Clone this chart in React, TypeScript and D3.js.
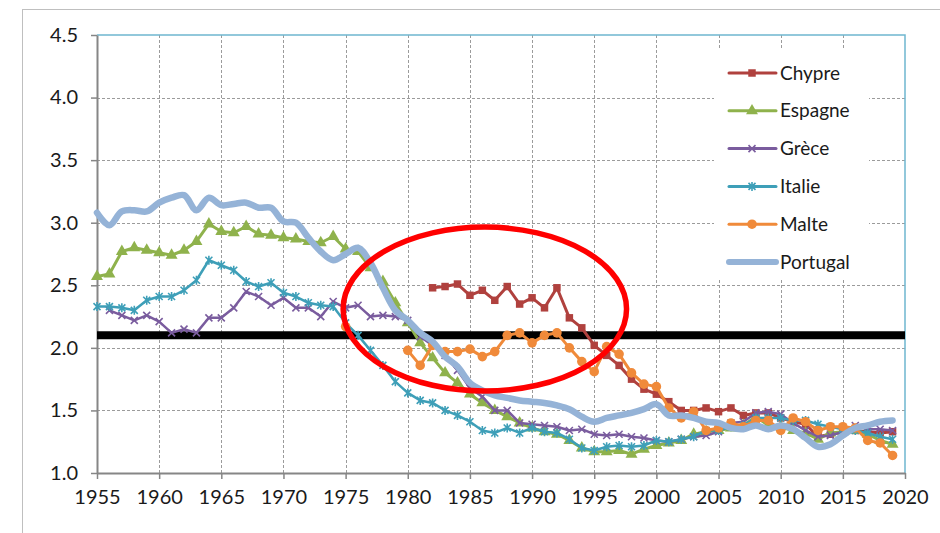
import React, { useEffect, useRef } from 'react';
import * as d3 from 'd3';

// total fertility rate, one value per year from the start year
const chypreStart = 1982;
const chypre = [
  2.48, 2.49, 2.51, 2.42, 2.46, 2.38, 2.49, 2.35, 2.40, 2.32,
  2.48, 2.24, 2.16, 2.02, 1.94, 1.86, 1.75, 1.67, 1.63, 1.57,
  1.50, 1.50, 1.52, 1.49, 1.52, 1.46, 1.48, 1.48, 1.44, 1.41,
  1.39, 1.29, 1.31, 1.33, 1.34, 1.33, 1.32, 1.33,
];

const espagneStart = 1955;
const espagne = [
  2.57, 2.59, 2.77, 2.80, 2.78, 2.76, 2.74, 2.78, 2.85, 2.99,
  2.93, 2.92, 2.97, 2.91, 2.90, 2.88, 2.87, 2.85, 2.84, 2.89,
  2.79, 2.77, 2.64, 2.53, 2.36, 2.20, 2.04, 1.92, 1.80, 1.72,
  1.63, 1.56, 1.50, 1.45, 1.40, 1.36, 1.33, 1.31, 1.26, 1.20,
  1.17, 1.17, 1.18, 1.15, 1.19, 1.22, 1.24, 1.26, 1.31, 1.33,
  1.34, 1.36, 1.38, 1.45, 1.38, 1.37, 1.34, 1.32, 1.27, 1.32,
  1.33, 1.34, 1.31, 1.26, 1.23,
];

const greceStart = 1956;
const grece = [
  2.30, 2.26, 2.22, 2.26, 2.21, 2.12, 2.15, 2.12, 2.24, 2.24,
  2.32, 2.45, 2.41, 2.34, 2.40, 2.32, 2.32, 2.25, 2.37, 2.32,
  2.34, 2.25, 2.26, 2.25, 2.22, 2.09, 2.02, 1.94, 1.82, 1.68,
  1.61, 1.50, 1.50, 1.40, 1.39, 1.38, 1.37, 1.34, 1.35, 1.31,
  1.30, 1.31, 1.29, 1.28, 1.26, 1.25, 1.27, 1.29, 1.30, 1.33,
  1.40, 1.41, 1.48, 1.49, 1.47, 1.40, 1.34, 1.29, 1.30, 1.33,
  1.38, 1.35, 1.35, 1.34,
];

const italieStart = 1955;
const italie = [
  2.33, 2.33, 2.32, 2.30, 2.38, 2.41, 2.41, 2.46, 2.54, 2.70,
  2.66, 2.62, 2.53, 2.49, 2.52, 2.44, 2.41, 2.36, 2.34, 2.33,
  2.20, 2.10, 1.98, 1.86, 1.73, 1.64, 1.58, 1.56, 1.50, 1.46,
  1.41, 1.34, 1.32, 1.36, 1.32, 1.36, 1.33, 1.32, 1.27, 1.20,
  1.18, 1.21, 1.22, 1.21, 1.22, 1.26, 1.25, 1.27, 1.29, 1.34,
  1.34, 1.37, 1.38, 1.44, 1.44, 1.44, 1.42, 1.42, 1.39, 1.37,
  1.35, 1.34, 1.32, 1.29, 1.27,
];

const malteStart = 1975;
const malte = [
  2.17, null, null, null, null,
  1.98, 1.86, 2.02, 1.97, 1.97, 1.99, 1.93, 1.97, 2.10, 2.12,
  2.04, 2.10, 2.12, 2.00, 1.89, 1.81, 2.01, 1.95, 1.80, 1.71,
  1.69, 1.52, 1.44, 1.49, 1.34, 1.36, 1.40, 1.37, 1.42, 1.42,
  1.34, 1.44, 1.41, 1.34, 1.37, 1.37, 1.36, 1.26, 1.24, 1.14,
];

const portugalStart = 1955;
const portugal = [
  3.08, 2.98, 3.09, 3.10, 3.09, 3.16, 3.20, 3.22, 3.10, 3.20,
  3.14, 3.15, 3.16, 3.12, 3.12, 3.01, 3.00, 2.88, 2.77, 2.70,
  2.75, 2.80, 2.68, 2.48, 2.30, 2.22, 2.12, 2.05, 1.93, 1.85,
  1.72, 1.66, 1.62, 1.60, 1.58, 1.57, 1.56, 1.54, 1.51, 1.45,
  1.41, 1.44, 1.46, 1.48, 1.51, 1.55, 1.46, 1.46, 1.44, 1.41,
  1.40, 1.36, 1.35, 1.38, 1.35, 1.38, 1.35, 1.28, 1.21, 1.23,
  1.30, 1.36, 1.38, 1.41, 1.42,
];

const xTicks = [1955, 1960, 1965, 1970, 1975, 1980, 1985, 1990, 1995, 2000, 2005, 2010, 2015, 2020];
const yTicks = [1.0, 1.5, 2.0, 2.5, 3.0, 3.5, 4.0, 4.5];
const seuil = 2.1; // replacement level
// highlighted zone: centre year, centre value, half-width in years, half-height in value
const zone = { year: 1986.2, value: 2.31, dYears: 11.4, dValue: 0.655 };

type Pt = [number, number | null];
const toPts = (start: number, vals: (number | null)[]): Pt[] => vals.map((v, i) => [start + i, v]);

const series = [
  { name: 'Chypre', pts: toPts(chypreStart, chypre), color: '#B0413E', width: 3, marker: 'square' },
  { name: 'Espagne', pts: toPts(espagneStart, espagne), color: '#8FB24C', width: 3, marker: 'triangle' },
  { name: 'Grèce', pts: toPts(greceStart, grece), color: '#7A5C9E', width: 2.5, marker: 'x' },
  { name: 'Italie', pts: toPts(italieStart, italie), color: '#3E9FB8', width: 2.5, marker: 'star' },
  { name: 'Malte', pts: toPts(malteStart, malte), color: '#F08A3A', width: 3, marker: 'circle' },
  { name: 'Portugal', pts: toPts(portugalStart, portugal), color: '#95B3D7', width: 6.5, marker: 'none' },
];

function markerPath(kind: string): string {
  if (kind === 'square') return d3.symbol(d3.symbolSquare, 56)()!;
  if (kind === 'triangle') return d3.symbol(d3.symbolTriangle, 62)()!;
  if (kind === 'circle') return d3.symbol(d3.symbolCircle, 72)()!;
  if (kind === 'x') return 'M-3.5,-3.5L3.5,3.5M-3.5,3.5L3.5,-3.5';
  if (kind === 'star') return 'M-3.5,-3.5L3.5,3.5M-3.5,3.5L3.5,-3.5M0,-4.5L0,4.5';
  return '';
}

export default function App() {
  const ref = useRef<SVGSVGElement>(null);

  useEffect(() => {
    if (!ref.current) return;
    const svg = d3.select(ref.current);
    svg.selectAll('*').remove();

    const width = 940;
    const height = 533;
    const m = { left: 97, right: 905, top: 35, bottom: 473 };
    const font = 'Lato, "Open Sans", sans-serif';

    const x = d3.scaleLinear().domain([1955, 2020]).range([m.left, m.right]);
    const y = d3.scaleLinear().domain([1, 4.5]).range([m.bottom, m.top]);

    svg.append('rect').attr('width', width).attr('height', height).attr('fill', '#fff');
    // outer chart frame
    svg.append('rect')
      .attr('x', 22.5).attr('y', 9.5).attr('width', 930).attr('height', 540)
      .attr('fill', 'none').attr('stroke', '#bfbfbf');

    // grid
    const grid = svg.append('g').attr('stroke', '#9b9b9b').attr('stroke-dasharray', '3,2').attr('stroke-width', 1);
    grid.selectAll('line.h')
      .data(yTicks.filter(v => v > 1 && v < 4.5))
      .join('line')
      .attr('x1', m.left).attr('x2', m.right)
      .attr('y1', d => Math.round(y(d)) + 0.5).attr('y2', d => Math.round(y(d)) + 0.5);
    grid.selectAll('line.v')
      .data(xTicks.filter(v => v > 1955 && v < 2020))
      .join('line')
      .attr('y1', m.top).attr('y2', m.bottom)
      .attr('x1', d => Math.round(x(d)) + 0.5).attr('x2', d => Math.round(x(d)) + 0.5);

    // plot area border (top / right)
    svg.append('path')
      .attr('d', `M${m.left},${m.top}H${m.right}V${m.bottom}`)
      .attr('fill', 'none').attr('stroke', '#6fb7cf').attr('stroke-width', 1.5);

    // axes
    const yAxis = svg.append('g')
      .attr('transform', `translate(${m.left},0)`)
      .call(d3.axisLeft(y).tickValues(yTicks).tickFormat(d3.format('.1f')).tickSize(6).tickSizeOuter(0).tickPadding(13));
    const xAxis = svg.append('g')
      .attr('transform', `translate(0,${m.bottom})`)
      .call(d3.axisBottom(x).tickValues(xTicks).tickFormat(d3.format('d')).tickSize(6).tickSizeOuter(0).tickPadding(11));
    [yAxis, xAxis].forEach(ax => {
      ax.select('.domain').attr('stroke', '#868686').attr('stroke-width', 2);
      ax.selectAll('.tick line').attr('stroke', '#868686').attr('stroke-width', 1.5);
      ax.selectAll('.tick text').attr('fill', '#1a1a1a').style('font-family', font).style('font-size', '20px');
    });

    // replacement level line
    svg.append('line')
      .attr('x1', x(1955)).attr('x2', x(2020))
      .attr('y1', y(seuil)).attr('y2', y(seuil))
      .attr('stroke', '#000').attr('stroke-width', 8);

    // series
    series.forEach(s => {
      const line = d3.line<Pt>()
        .defined(d => d[1] != null)
        .x(d => x(d[0]))
        .y(d => y(d[1] as number));
      if (s.marker === 'none') line.curve(d3.curveCatmullRom.alpha(0.5));
      const g = svg.append('g');
      g.append('path')
        .attr('d', line(s.pts))
        .attr('fill', 'none')
        .attr('stroke', s.color)
        .attr('stroke-width', s.width)
        .attr('stroke-linejoin', 'round')
        .attr('stroke-linecap', 'round');
      if (s.marker !== 'none') {
        const p = markerPath(s.marker);
        const open = s.marker === 'x' || s.marker === 'star';
        g.selectAll('path.mk')
          .data(s.pts.filter(d => d[1] != null))
          .join('path')
          .attr('class', 'mk')
          .attr('transform', d => `translate(${x(d[0])},${y(d[1] as number)})`)
          .attr('d', p)
          .attr('fill', open ? 'none' : s.color)
          .attr('stroke', s.color)
          .attr('stroke-width', open ? 1.6 : 0);
      }
    });

    // legend
    const lg = svg.append('g');
    lg.append('rect').attr('x', 714).attr('y', 50).attr('width', 155).attr('height', 230).attr('fill', '#fff');
    series.forEach((s, i) => {
      const cy = 73 + i * 37.8;
      lg.append('line')
        .attr('x1', 729).attr('x2', 776).attr('y1', cy).attr('y2', cy)
        .attr('stroke', s.color).attr('stroke-width', s.marker === 'none' ? 6 : 3)
        .attr('stroke-linecap', 'round');
      if (s.marker !== 'none') {
        const open = s.marker === 'x' || s.marker === 'star';
        lg.append('path')
          .attr('transform', `translate(752,${cy})`)
          .attr('d', markerPath(s.marker))
          .attr('fill', open ? 'none' : s.color)
          .attr('stroke', s.color)
          .attr('stroke-width', open ? 1.6 : 0);
      }
      lg.append('text')
        .attr('x', 780).attr('y', cy).attr('dy', '0.35em')
        .attr('fill', '#1a1a1a')
        .style('font-family', font).style('font-size', '19px')
        .text(s.name);
    });

    // highlighted zone
    svg.append('ellipse')
      .attr('cx', x(zone.year)).attr('cy', y(zone.value))
      .attr('rx', x(zone.year + zone.dYears) - x(zone.year))
      .attr('ry', y(zone.value - zone.dValue) - y(zone.value))
      .attr('fill', 'none').attr('stroke', '#FF0000').attr('stroke-width', 5.5);
  }, []);

  return (
    <svg
      ref={ref}
      width={940}
      height={533}
      style={{ position: 'absolute', left: 0, top: 0, display: 'block' }}
    />
  );
}
